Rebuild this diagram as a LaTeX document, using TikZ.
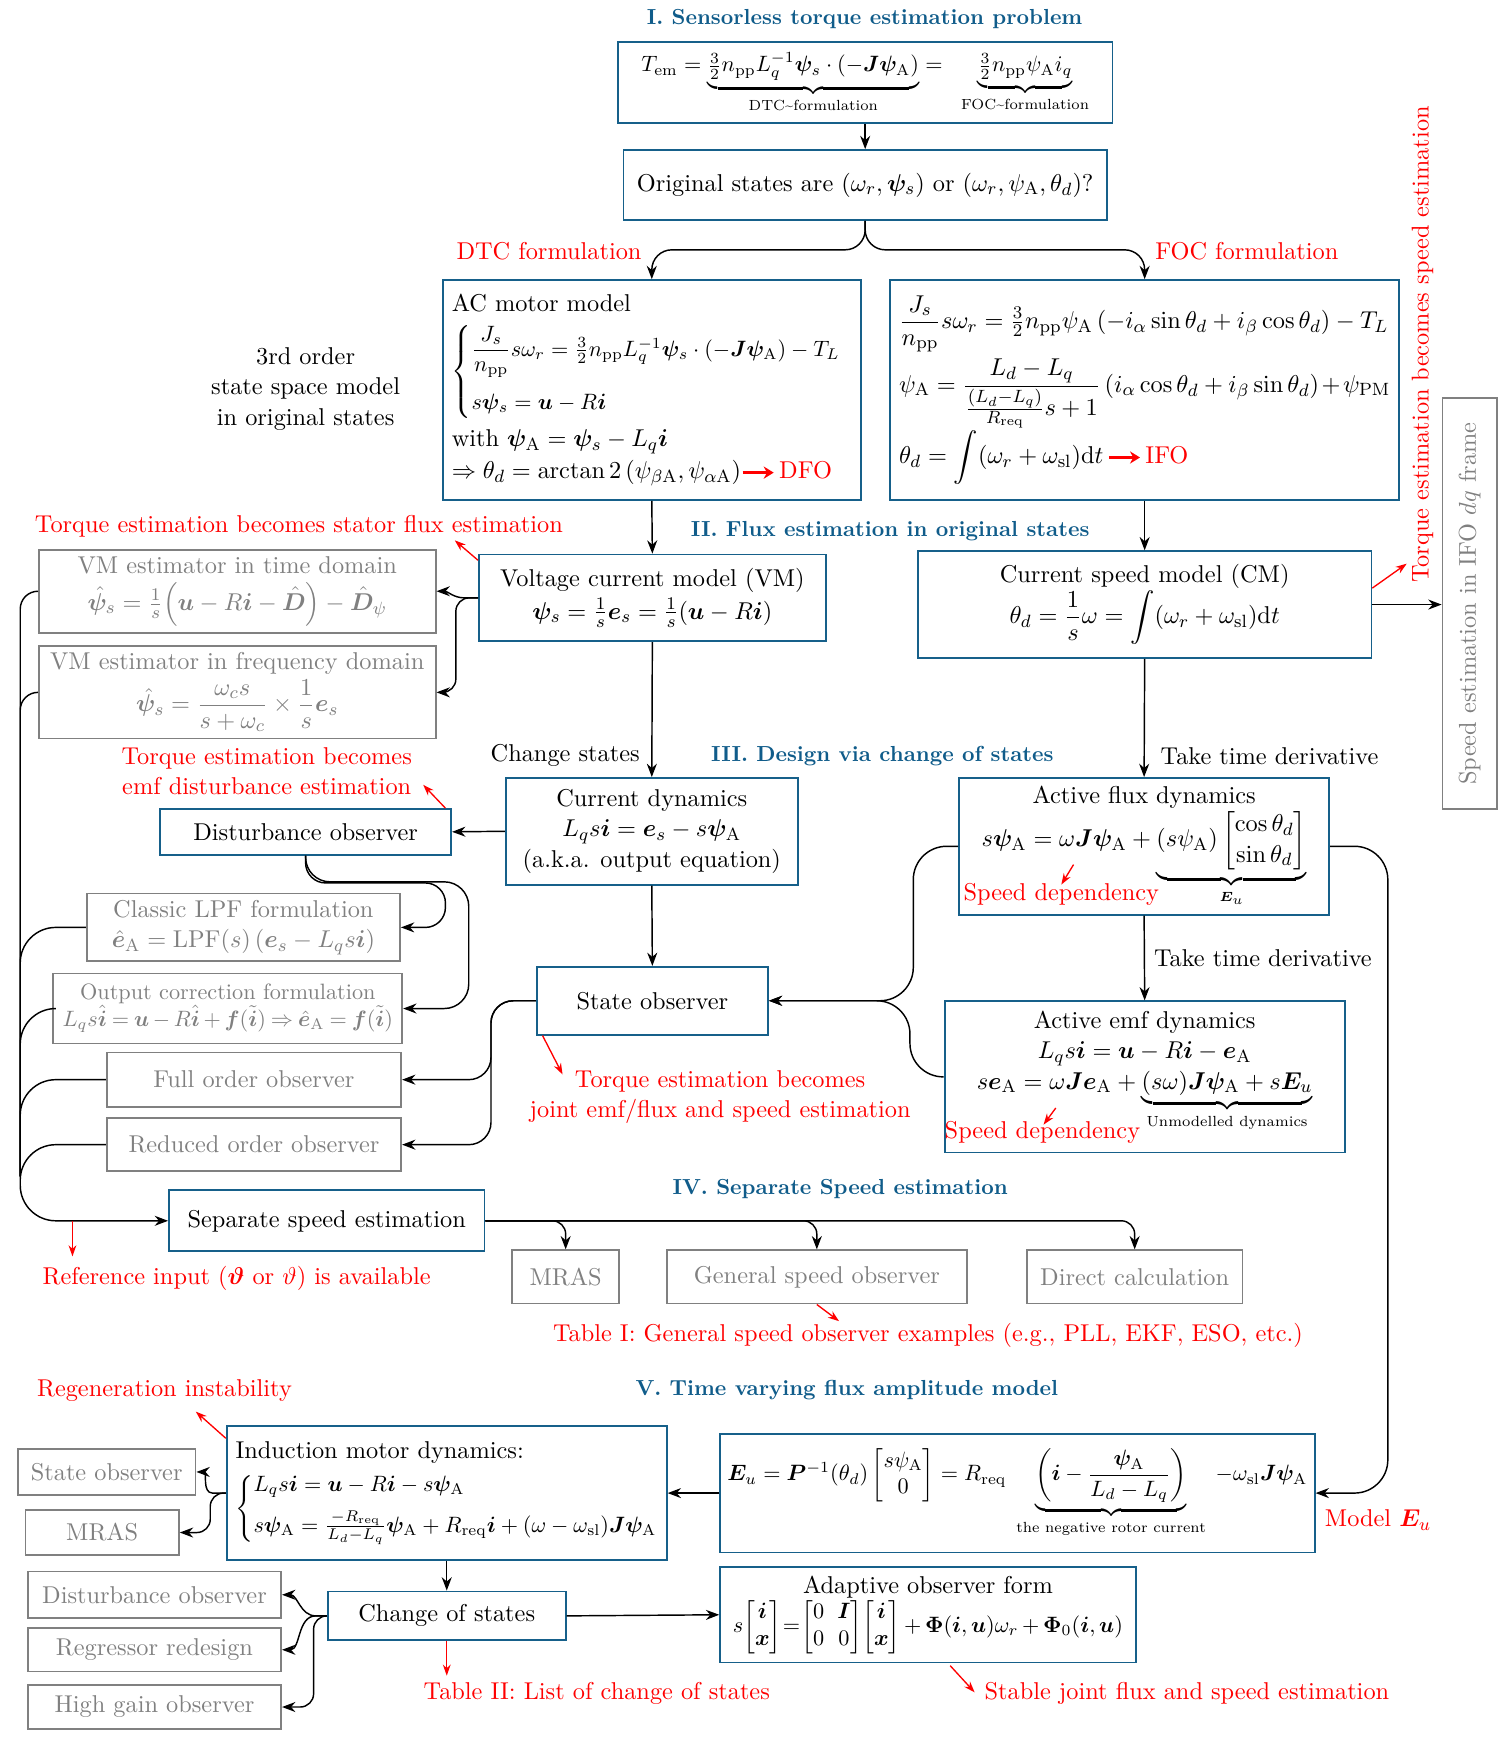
\documentclass[tikz,border=0pt,11pt]{standalone}
\usepackage{amsmath,amssymb,bm}
\usetikzlibrary{arrows.meta,calc}
\definecolor{boxblue}{RGB}{22,96,138}
\definecolor{titleblue}{RGB}{16,92,138}
\definecolor{gtext}{RGB}{128,128,128}
\newcommand\bmv[1]{\boldsymbol{#1}}
\newcommand\rA{\mathrm{A}}
\newcommand\ulab[1]{\text{\fontsize{6.6}{8}\selectfont #1}}
\newcommand\redarrow{\tikz[baseline=-0.6ex]\draw[red,line width=1.3pt,-{Stealth[length=4.5pt,width=5.5pt]}](0,0)--(14pt,0);}
\begin{document}
\begin{tikzpicture}[x=0.5pt,y=-0.5pt,
  every node/.style={inner sep=2pt},
  bbox/.style={draw=boxblue, line width=0.8pt, align=center, inner sep=3pt},
  gbox/.style={draw=gtext, text=gtext, line width=0.8pt, align=center, inner sep=3pt},
  sz/.style 2 args={minimum width=#1*0.5pt, minimum height=#2*0.5pt},
  ttl/.style={text=titleblue, font=\fontsize{9.8}{12}\selectfont\bfseries},
  rtxt/.style={text=red, align=center},
  arr/.style={line width=0.65pt, -{Stealth[length=6pt,width=4.5pt]}},
  ln/.style={line width=0.65pt},
  rarr/.style={red, line width=0.6pt, -{Stealth[length=5pt,width=3.5pt]}},
]
\useasboundingbox (0,0) rectangle (1352,1563);

% ---------- I
\node[ttl] (t1) at (778,17) {I. Sensorless torque estimation problem};
\node[bbox, sz={445}{73}] (tem) at (778.5,74.5) {\small$T_{\mathrm{em}} = \underbrace{\tfrac{3}{2} n_{\mathrm{pp}} L_q^{-1} \bmv\psi_s\cdot(-\bmv J\bmv\psi_\rA)}_{\ulab{DTC\textasciitilde formulation}} =\;\; \underbrace{\tfrac32 n_{\mathrm{pp}}\psi_\rA i_q}_{\ulab{FOC\textasciitilde formulation}}$};
\node[bbox, sz={435}{63}] (orig) at (778.5,166.5) {Original states are $(\omega_r,\bmv\psi_s)$ or $(\omega_r,\psi_\rA,\theta_d)$?};
\node[rtxt] (ldtc) at (494,226) {DTC formulation};
\node[rtxt] (lfoc) at (1122,226) {FOC formulation};

\node[bbox, minimum height=99pt, text width=180pt, align=left, inner sep=4pt] (acm) at (586.5,351) {AC motor model\\[5pt]
{\small$\left\{\begin{array}{@{}l@{}} \dfrac{J_s}{n_{\mathrm{pp}}}s\omega_r=\tfrac32 n_{\mathrm{pp}}L_q^{-1}\bmv\psi_s\cdot(-\bmv J\bmv\psi_\rA)-T_L\\[12pt] s\bmv\psi_s=\bmv u-R\bmv i\end{array}\right.$}\\[4pt]
with $\bmv\psi_\rA=\bmv\psi_s-L_q\bmv i$\\[1pt]
$\Rightarrow\theta_d=\arctan2\left(\psi_{\beta\rA},\psi_{\alpha\rA}\right)$\redarrow\,{\color{red}DFO}};

\node[bbox, minimum height=99pt, text width=221pt, align=left, inner sep=4pt] (foc) at (1030,351) {$\dfrac{J_s}{n_{\mathrm{pp}}}s\omega_r=\tfrac32 n_{\mathrm{pp}}\psi_\rA\left(-i_\alpha\sin\theta_d+i_\beta\cos\theta_d\right)-T_L$\\[2pt]
$\psi_\rA=\dfrac{L_d-L_q}{\frac{(L_d-L_q)}{R_{\mathrm{req}}}s+1}\left(i_\alpha\cos\theta_d+i_\beta\sin\theta_d\right)+\psi_{\mathrm{PM}}$\\
$\theta_d=\displaystyle\int(\omega_r+\omega_{\mathrm{sl}})\mathrm{d}t$\,\redarrow\,{\color{red}IFO}};

\node[align=center] (ord) at (275,350) {3rd order\\state space model\\in original states};

\node[rtxt, rotate=90] (tsp) at (1280,310) {Torque estimation becomes speed estimation};
\node[gbox, sz={370}{49}, rotate=90] (ifo) at (1322.5,543) {Speed estimation in IFO $dq$ frame};

% ---------- II
\node[ttl] (t2) at (801,478) {II. Flux estimation in original states};
\node[rtxt] (rsf) at (269,474) {Torque estimation becomes stator flux estimation};
\node[bbox, sz={312}{78}] (vm) at (587,538) {Voltage current model (VM)\\[1pt] $\bmv\psi_s=\tfrac1s\bmv e_s=\tfrac1s(\bmv u-R\bmv i)$};
\node[bbox, sz={408}{96}] (cm) at (1030,544) {Current speed model (CM)\\ $\theta_d=\dfrac1s\omega=\displaystyle\int(\omega_r+\omega_{\mathrm{sl}})\mathrm{d}t$};
\node[gbox, sz={357}{66}] (vmt) at (213.5,532) {VM estimator in time domain\\[3pt] $\hat{\bmv\psi}_s=\tfrac1s\Big(\bmv u-R\bmv i-\hat{\bmv D}\Big)-\hat{\bmv D}_\psi$};
\node[gbox, sz={357}{76}] (vmf) at (213.5,623) {VM estimator in frequency domain\\[1pt] $\hat{\bmv\psi}_s=\dfrac{\omega_c s}{s+\omega_c}\times\dfrac1s\bmv e_s$};

% ---------- III
\node[anchor=east] (lcs) at (580,680) {Change states};
\node[ttl] (t3) at (794,680) {III. Design via change of states};
\node[anchor=west] (ltd1) at (1040,680) {Take time derivative};
\node[rtxt] (remf) at (240,694) {Torque estimation becomes\\emf disturbance estimation};
\node[bbox, sz={262}{41}] (dob) at (275,748.5) {Disturbance observer};
\node[bbox, sz={263}{96}] (cdyn) at (586.5,748) {Current dynamics\\ $L_q s\bmv i=\bmv e_s-s\bmv\psi_\rA$\\ (a.k.a. output equation)};
\node[bbox, sz={333}{123}] (afd) at (1029.5,761.5) {Active flux dynamics\\ $s\bmv\psi_\rA=\omega\bmv J\bmv\psi_\rA+\underbrace{(s\psi_\rA)\begin{bmatrix}\cos\theta_d\\ \sin\theta_d\end{bmatrix}}_{\scriptscriptstyle\bmv E_u}$};
\node[text=red] (sd1) at (955,805) {Speed dependency};
\node[gbox, sz={282}{59}] (lpf) at (219,834.5) {Classic LPF formulation\\ $\hat{\bmv e}_\rA=\mathrm{LPF}(s)\left(\bmv e_s-L_q s\bmv i\right)$};
\node[gbox, sz={314}{63}, font=\small] (oc) at (205,907.5) {Output correction formulation\\ $\medmuskip=3mu\thickmuskip=4mu L_q s\hat{\bmv i}=\bmv u-R\hat{\bmv i}+\bmv f(\tilde{\bmv i})\Rightarrow\hat{\bmv e}_\rA=\bmv f(\tilde{\bmv i})$};
\node[bbox, sz={208}{61}] (so) at (587,900.5) {State observer};
\node[anchor=west] (ltd2) at (1034,862) {Take time derivative};
\node[bbox, sz={360}{136}] (aed) at (1030,969) {Active emf dynamics\\ $L_q s\bmv i=\bmv u-R\bmv i-\bmv e_\rA$\\ $s\bmv e_\rA=\omega\bmv J\bmv e_\rA+\underbrace{(s\omega)\bmv J\bmv\psi_\rA+s\bmv E_u}_{\ulab{Unmodelled dynamics}}$\\[4pt]};
\node[text=red] (sd2) at (938,1019) {Speed dependency};
\node[gbox, sz={265}{49}] (fo) at (228.5,971.5) {Full order observer};
\node[gbox, sz={265}{48}] (ro) at (228.5,1030) {Reduced order observer};
\node[rtxt] (rj) at (648,987) {Torque estimation becomes\\joint emf/flux and speed estimation};

% ---------- IV
\node[ttl] (t4) at (756,1070) {IV. Separate Speed estimation};
\node[bbox, sz={284}{55}] (sse) at (294,1098.5) {Separate speed estimation};
\node[gbox, sz={96}{48}] (mr1) at (509,1149) {MRAS};
\node[gbox, sz={270}{48}] (gso) at (735,1149) {General speed observer};
\node[gbox, sz={194}{48}] (dc) at (1021,1149) {Direct calculation};
\node[text=red] (rri) at (213,1150) {Reference input ($\bmv\vartheta$ or $\vartheta$) is available};
\node[text=red] (rt1) at (835,1202) {Table I: General speed observer examples (e.g., PLL, EKF, ESO, etc.)};

% ---------- V
\node[text=red] (rreg) at (148,1251) {Regeneration instability};
\node[ttl] (t5) at (762,1251) {V. Time varying flux amplitude model};
\node[bbox, minimum height=60.5pt, text width=190pt, align=left, inner sep=4pt] (im) at (402,1343.5) {Induction motor dynamics:\\[3pt]
{\small$\left\{\begin{array}{@{}l@{}} L_q s\bmv i=\bmv u-R\bmv i-s\bmv\psi_\rA\\[5pt] s\bmv\psi_\rA=\frac{-R_{\mathrm{req}}}{L_d-L_q}\bmv\psi_\rA+R_{\mathrm{req}}\bmv i+(\omega-\omega_{\mathrm{sl}})\bmv J\bmv\psi_\rA\end{array}\right.$}};
\node[gbox, sz={160}{41}] (so2) at (96,1324.5) {State observer};
\node[gbox, sz={138}{40}] (mr2) at (92,1379) {MRAS};
\node[bbox, sz={535}{107}] (eu) at (915.5,1343.5) {\small$\bmv E_u=\bmv P^{-1}(\theta_d)\begin{bmatrix}s\psi_\rA\\0\end{bmatrix}=R_{\mathrm{req}}\;\underbrace{\left(\bmv i-\dfrac{\bmv\psi_\rA}{L_d-L_q}\right)}_{\ulab{the negative rotor current}}\;-\omega_{\mathrm{sl}}\bmv J\bmv\psi_\rA$};
\node[text=red] (rmeu) at (1240,1368) {Model $\bmv E_u$};
\node[bbox, sz={214}{44}] (cos) at (402,1454) {Change of states};
\node[gbox, sz={228}{42}] (do2) at (139,1435) {Disturbance observer};
\node[gbox, sz={228}{39}] (rr) at (139,1484.5) {Regressor redesign};
\node[gbox, sz={228}{40}] (hg) at (139,1536) {High gain observer};
\node[bbox, sz={374}{86}, inner sep=1pt] (aof) at (835,1453) {Adaptive observer form\\ \small\setlength\arraycolsep{3pt}$\medmuskip=3mu\thickmuskip=4mu s\!\begin{bmatrix}\bmv i\\ \bmv x\end{bmatrix}\!=\!\begin{bmatrix}0&\bmv I\\0&0\end{bmatrix}\!\begin{bmatrix}\bmv i\\ \bmv x\end{bmatrix}+\bmv\Phi(\bmv i,\bmv u)\omega_r+\bmv\Phi_0(\bmv i,\bmv u)$};
\node[text=red] (rt2) at (537,1524) {Table II: List of change of states};
\node[text=red] (rst) at (1068,1524) {Stable joint flux and speed estimation};

% ---------- connectors
\draw[arr] (tem.south) -- (orig.north);
\draw[arr, rounded corners=9pt] (orig.south) -- ++(0,26) -| (acm.north);
\draw[arr, rounded corners=9pt] (orig.south) -- ++(0,26) -| (foc.north);
\draw[arr] (acm.south) -- (vm.north);
\draw[arr] (foc.south) -- (cm.north);
\draw[arr] (cm.east) -- (cm.east -| ifo.north);
\draw[arr] (vm.west) -- ++(-12,0) to[out=180,in=0] (vmt.east);
\draw[arr, rounded corners=6pt] (vm.west) -- ++(-20,0) |- (vmf.east);
\draw[arr] (vm.south) -- (cdyn.north);
\draw[arr] (cm.south) -- (afd.north);
\draw[arr] (cdyn.west) -- (dob.east);
\draw[arr] (cdyn.south) -- (so.north);
\draw[arr] (afd.south) -- (aed.north);
\draw[arr, rounded corners=9pt] (dob.south) |- ($(lpf.east)+(40,-40)$) |- (lpf.east);
\draw[arr, rounded corners=11pt] (dob.south) |- ($(oc.east)+(59,-114)$) |- (oc.east);
\draw[arr, rounded corners=15pt] (afd.west) -| ($(so.east)+(130,0)$) -- (so.east);
\draw[arr, rounded corners=15pt] (aed.west) -| ($(so.east)+(127,0)$) -- (so.east);
\draw[arr, rounded corners=10pt] (so.west) -| ($(fo.east)+(80,0)$) -- (fo.east);
\draw[arr, rounded corners=10pt] (so.west) -| ($(ro.east)+(80,0)$) -- (ro.east);
% left bus
\draw[ln, rounded corners=8pt] (vmt.west) -| ($(sse.west)+(-133,-40)$);
\draw[ln, rounded corners=8pt] (vmf.west) -| ($(sse.west)+(-133,-40)$);
\draw[ln, rounded corners=16pt] (lpf.west) -| ($(sse.west)+(-133,-40)$);
\draw[ln, rounded corners=16pt] (oc.west) -| ($(sse.west)+(-133,-40)$);
\draw[ln, rounded corners=16pt] (fo.west) -| ($(sse.west)+(-133,-40)$);
\draw[arr, rounded corners=16pt] (ro.west) -| ($(sse.west)+(-133,0)$) -- (sse.west);
\draw[arr, rounded corners=6pt] (sse.east) -| (mr1.north);
\draw[arr, rounded corners=6pt] (sse.east) -| (gso.north);
\draw[arr, rounded corners=6pt] (sse.east) -| (dc.north);
\draw[arr, rounded corners=15pt] (afd.east) -| ($(eu.east)+(65,0)$) -- (eu.east);
\draw[arr] (eu.west) -- (im.east);
\draw[arr] (im.west) -- ++(-12,0) to[out=180,in=0] (so2.east);
\draw[arr, rounded corners=6pt] (im.west) -- ++(-14,0) |- (mr2.east);
\draw[arr] (im.south) -- (cos.north);
\draw[arr] (cos.west) -- ++(-10,0) to[out=180,in=0] (do2.east);
\draw[arr] (cos.west) -- ++(-10,0) to[out=180,in=0] (rr.east);
\draw[arr, rounded corners=6pt] (cos.west) -- ++(-12,0) |- (hg.east);
\draw[arr] (cos.east) -- (aof.west);

% ---------- red annotation arrows
\draw[rarr] ($(vm.north west)+(0,6)$) -- ++(-21,-18);
\draw[rarr] ($(cm.north east)+(0,34)$) -- ++(31,-22);
\draw[rarr] ($(dob.north east)+(-6,0)$) -- ++(-20,-21);
\draw[rarr] (966,778) -- (955,796);
\draw[rarr] (950,997) -- (939,1012);
\draw[rarr] ($(so.south west)+(6,0)$) -- ++(18,35);
\draw[rarr] ($(sse.west)+(-86,0)$) -- ++(0,32);
\draw[rarr] (gso.south) -- ++(20,15);
\draw[rarr] ($(im.north west)+(0,12)$) -- ++(-27,-24);
\draw[rarr] (cos.south) -- ++(0,31);
\draw[rarr] ($(aof.south)+(20,2)$) -- ++(22,24);
\end{tikzpicture}
\end{document}
